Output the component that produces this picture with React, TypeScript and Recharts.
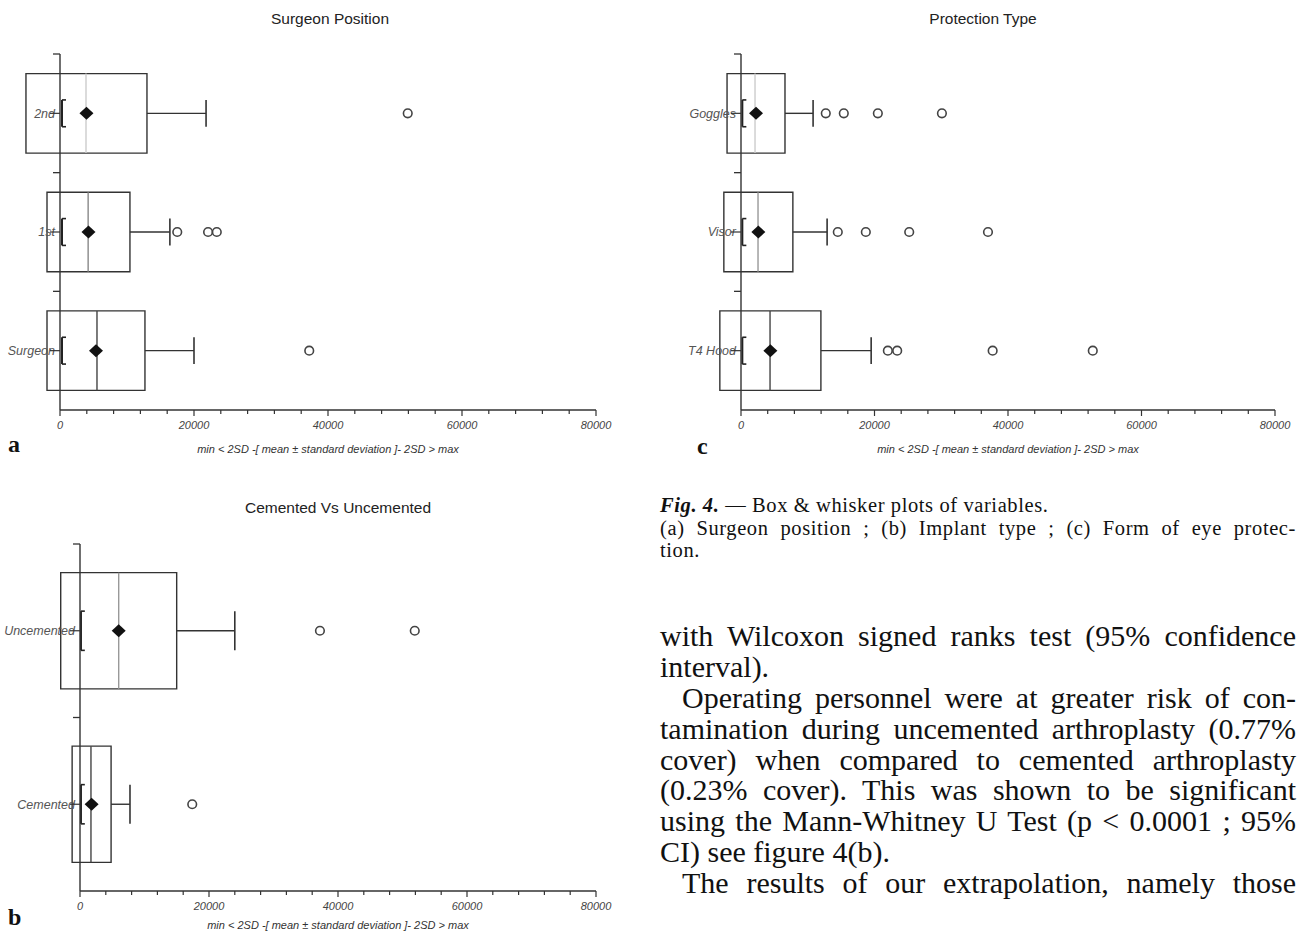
import React from 'react';
import { ComposedChart, XAxis, YAxis, Scatter, ReferenceArea, ReferenceLine } from 'recharts';

const xTicks = [0, 4000, 8000, 12000, 16000, 20000, 24000, 28000, 32000, 36000, 40000, 44000, 48000, 52000, 56000, 60000, 64000, 68000, 72000, 76000, 80000];
const axisTitle = 'min < 2SD -[ mean ± standard deviation ]- 2SD > max';

// (a) surgeon position, bottom to top
const positionCats = ['Surgeon', '1st', '2nd'];
const positionMeans = [5370, 4250, 3950];
const positionSds = [7310, 6190, 9030];
const positionMedians = [5520, 4200, 3880];
const positionMins = [300, 300, 300];
const positionMaxs = [20000, 16400, 21800];
const positionOutliers = [[37200], [17500, 22100, 23400], [51900]];

// (b) implant type
const implantCats = ['Cemented', 'Uncemented'];
const implantMeans = [1800, 6000];
const implantSds = [3020, 8990];
const implantMedians = [1700, 6000];
const implantMins = [150, 150];
const implantMaxs = [7750, 24000];
const implantOutliers = [[17400], [37200, 51900]];

// (c) protection type
const protectionCats = ['T4 Hood', 'Visor', 'Goggles'];
const protectionMeans = [4400, 2600, 2250];
const protectionSds = [7570, 5170, 4340];
const protectionMedians = [4350, 2550, 2100];
const protectionMins = [200, 200, 200];
const protectionMaxs = [19500, 12900, 10800];
const protectionOutliers = [[22000, 23400, 37700, 52700], [14500, 18700, 25200, 37000], [12700, 15400, 20500, 30100]];

const INK = '#333';

const XTick = (p: any) => {
  const { x, y, payload } = p;
  const major = payload.value % 20000 === 0;
  return (
    <g>
      <line x1={x} x2={x} y1={y} y2={y + (major ? 6 : 4)} stroke={INK} strokeWidth={1.2} />
      {major && (
        <text x={x} y={y + 15} dy="0.35em" textAnchor="middle" fontStyle="italic" fontSize={11} fill="#444">
          {payload.value}
        </text>
      )}
    </g>
  );
};

const yTick = (p: any, cats: string[]) => {
  const { x, y, payload } = p;
  const v = payload.value;
  if (Number.isInteger(v)) {
    if (v === 0) return <g />;
    return <line x1={x - 7} x2={x} y1={y} y2={y} stroke={INK} strokeWidth={1.3} />;
  }
  return (
    <g>
      <text x={x - 5} y={y} dy="0.35em" textAnchor="end" fontStyle="italic" fontSize={12.5} fill="#555">
        {cats[Math.floor(v)]}
      </text>
      <line x1={x - 10} x2={x} y1={y} y2={y} stroke={INK} strokeWidth={1.2} />
    </g>
  );
};

const Diamond = (p: any) => (
  <polygon
    points={`${p.cx},${p.cy - 6.5} ${p.cx + 7},${p.cy} ${p.cx},${p.cy + 6.5} ${p.cx - 7},${p.cy}`}
    fill="#111"
  />
);

const Ring = (p: any) => <circle cx={p.cx} cy={p.cy} r={4.3} fill="none" stroke="#444" strokeWidth={1.6} />;

type PanelProps = {
  cats: string[];
  means: number[];
  sds: number[];
  medians: number[];
  mins: number[];
  maxs: number[];
  outliers: number[][];
  shades: string[];
  width: number;
  height: number;
  left: number;
  right: number;
  top: number;
  bottom: number;
};

function BoxPanel(props: PanelProps) {
  const { cats, means, sds, medians, mins, maxs, outliers, shades, width, height, left, right, top, bottom } = props;
  const n = cats.length;
  const yTicks: number[] = [];
  for (let i = 0; i <= 2 * n; i++) yTicks.push(i / 2);
  const meanPts = means.map((m, i) => ({ x: m, y: i + 0.5 }));
  const outPts = outliers.flatMap((arr, i) => arr.map((v) => ({ x: v, y: i + 0.5 })));
  const H = 0.335;
  const C = 0.113;
  const S = 600;

  const marks = cats.flatMap((c, i) => {
    const y = i + 0.5;
    return [
      <ReferenceArea key={c + 'box'} x1={means[i] - sds[i]} x2={means[i] + sds[i]} y1={y - H} y2={y + H}
        fill="none" fillOpacity={0} stroke={INK} strokeWidth={1.4} ifOverflow="visible" />,
      <ReferenceLine key={c + 'med'} segment={[{ x: medians[i], y: y - H }, { x: medians[i], y: y + H }]}
        stroke={shades[i]} strokeWidth={1.4} ifOverflow="visible" />,
      <ReferenceLine key={c + 'wh'} segment={[{ x: means[i] + sds[i], y }, { x: maxs[i], y }]}
        stroke={INK} strokeWidth={1.4} ifOverflow="visible" />,
      <ReferenceLine key={c + 'cap'} segment={[{ x: maxs[i], y: y - C }, { x: maxs[i], y: y + C }]}
        stroke={INK} strokeWidth={1.6} ifOverflow="visible" />,
      <ReferenceLine key={c + 'br'} segment={[{ x: mins[i], y: y - C }, { x: mins[i], y: y + C }]}
        stroke="#222" strokeWidth={2} ifOverflow="visible" />,
      <ReferenceLine key={c + 'brt'} segment={[{ x: mins[i], y: y + C }, { x: mins[i] + S, y: y + C }]}
        stroke="#222" strokeWidth={1.6} ifOverflow="visible" />,
      <ReferenceLine key={c + 'brb'} segment={[{ x: mins[i], y: y - C }, { x: mins[i] + S, y: y - C }]}
        stroke="#222" strokeWidth={1.6} ifOverflow="visible" />,
    ];
  });

  return (
    <ComposedChart width={width} height={height} margin={{ top, right, bottom: 0, left: 0 }}>
      <XAxis type="number" dataKey="x" domain={[0, 80000]} ticks={xTicks} interval={0}
        tickSize={0} tickMargin={0} tickLine={false} tick={XTick}
        axisLine={{ stroke: INK, strokeWidth: 1.4 }} height={bottom} />
      <YAxis type="number" dataKey="y" domain={[0, n]} ticks={yTicks} interval={0}
        tickSize={0} tickMargin={0} tickLine={false} tick={(p: any) => yTick(p, cats)}
        axisLine={{ stroke: INK, strokeWidth: 1.4 }} width={left} />
      {marks}
      <Scatter data={outPts} shape={Ring} isAnimationActive={false} />
      <Scatter data={meanPts} shape={Diamond} isAnimationActive={false} />
    </ComposedChart>
  );
}

const abs = (extra: React.CSSProperties): React.CSSProperties => ({ position: 'absolute', whiteSpace: 'nowrap', ...extra });

const Title = ({ cx, cy, children }: any) => (
  <div style={abs({ left: cx, top: cy - 9, transform: 'translateX(-50%)', fontSize: 15.5, color: '#222', lineHeight: '18px' })}>
    {children}
  </div>
);

const AxisTitle = ({ cx, cy }: any) => (
  <div style={abs({ left: cx, top: cy - 7, transform: 'translateX(-50%)', fontSize: 11, fontStyle: 'italic', color: '#333', lineHeight: '14px' })}>
    {axisTitle}
  </div>
);

const Letter = ({ x, cy, children }: any) => (
  <div style={abs({ left: x, top: cy - 15, fontFamily: '"Liberation Serif", serif', fontWeight: 'bold', fontSize: 24, lineHeight: '28px', color: '#111' })}>
    {children}
  </div>
);

const bodyLines = [
  { t: 'with Wilcoxon signed ranks test (95% confidence', j: true, ind: false },
  { t: 'interval).', j: false, ind: false },
  { t: 'Operating personnel were at greater risk of con-', j: true, ind: true },
  { t: 'tamination during uncemented arthroplasty (0.77%', j: true, ind: false },
  { t: 'cover) when compared to cemented arthroplasty', j: true, ind: false },
  { t: '(0.23% cover). This was shown to be significant', j: true, ind: false },
  { t: 'using the Mann-Whitney U Test (p < 0.0001 ; 95%', j: true, ind: false },
  { t: 'CI) see figure 4(b).', j: false, ind: false },
  { t: 'The results of our extrapolation, namely those', j: true, ind: true },
];

export default function App() {
  return (
    <div style={{ position: 'absolute', left: 0, top: 0, width: 1304, height: 935, background: '#fff', overflow: 'hidden', fontFamily: '"Liberation Sans", Arial, sans-serif' }}>
      <div style={{ position: 'absolute', left: 0, top: 0 }}>
        <BoxPanel cats={positionCats} means={positionMeans} sds={positionSds} medians={positionMedians}
          mins={positionMins} maxs={positionMaxs} outliers={positionOutliers} shades={['#444', '#888', '#ccc']}
          width={640} height={460} left={60} right={44} top={54} bottom={50} />
      </div>
      <div style={{ position: 'absolute', left: 660, top: 0 }}>
        <BoxPanel cats={protectionCats} means={protectionMeans} sds={protectionSds} medians={protectionMedians}
          mins={protectionMins} maxs={protectionMaxs} outliers={protectionOutliers} shades={['#444', '#999', '#ccc']}
          width={644} height={460} left={81} right={29} top={54} bottom={50} />
      </div>
      <div style={{ position: 'absolute', left: 0, top: 490 }}>
        <BoxPanel cats={implantCats} means={implantMeans} sds={implantSds} medians={implantMedians}
          mins={implantMins} maxs={implantMaxs} outliers={implantOutliers} shades={['#444', '#999']}
          width={640} height={445} left={80} right={44} top={54} bottom={44} />
      </div>

      <Title cx={330} cy={19}>Surgeon Position</Title>
      <Title cx={983} cy={19}>Protection Type</Title>
      <Title cx={338} cy={508}>Cemented Vs Uncemented</Title>
      <AxisTitle cx={328} cy={449} />
      <AxisTitle cx={1008} cy={449} />
      <AxisTitle cx={338} cy={925} />
      <Letter x={8} cy={445}>a</Letter>
      <Letter x={697} cy={447}>c</Letter>
      <Letter x={8} cy={918}>b</Letter>

      <div style={{ position: 'absolute', left: 660, top: 494, width: 636, fontFamily: '"Liberation Serif", serif', fontSize: 20.5, letterSpacing: 0.6, lineHeight: '22.5px', color: '#111' }}>
        <div><b><i>Fig. 4.</i></b> — Box &amp; whisker plots of variables.</div>
        <div style={{ textAlign: 'justify', textAlignLast: 'justify' }}>(a) Surgeon position ; (b) Implant type ; (c) Form of eye protec-</div>
        <div>tion.</div>
      </div>

      <div style={{ position: 'absolute', left: 660, top: 621, width: 636, fontFamily: '"Liberation Serif", serif', fontSize: 30, lineHeight: '30.9px', color: '#111' }}>
        {bodyLines.map((l, i) => (
          <div key={i} style={{ height: 30.9, textIndent: l.ind ? 22 : 0, textAlign: l.j ? 'justify' : 'left', textAlignLast: l.j ? 'justify' : 'left' }}>
            {l.t}
          </div>
        ))}
      </div>
    </div>
  );
}
